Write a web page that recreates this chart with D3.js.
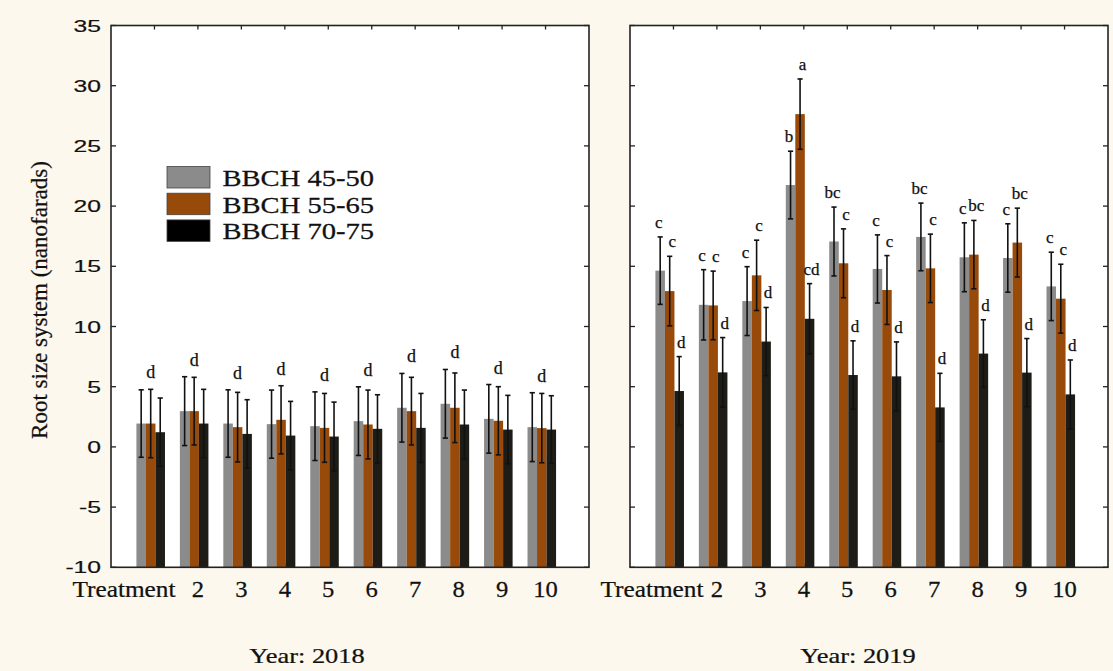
<!DOCTYPE html>
<html lang="en">
<head>
  <meta charset="UTF-8" />
  <title>Root size system by treatment, 2018 and 2019</title>
  <script src="https://d3js.org/d3.v7.min.js"></script>
  <style>
    html, body {
      margin: 0;
      padding: 0;
      background: #fcf8ee;
    }
    .serif { font-family: "Liberation Serif", "Times New Roman", serif; fill: #111; stroke: #111; stroke-width: 0.25; }
    .sans { font-family: "Liberation Sans", Arial, sans-serif; fill: #111; stroke: #111; stroke-width: 0.2; }
  </style>
</head>
<body>
  <div id="chart"></div>
  <script>
    // Categories and series
    const treatments = ["Treatment", "2", "3", "4", "5", "6", "7", "8", "9", "10"];
    const stages = ["BBCH 45-50", "BBCH 55-65", "BBCH 70-75"];
    const stageColors = ["#8b8b8b", "#984a0b", "#1e1c16"];
    const legendColors = ["#8b8b8b", "#984a0b", "#000000"];
    const yTicks = [-10, -5, 0, 5, 10, 15, 20, 25, 30, 35];

    // Year 2018 means and error half-widths
    const gray2018 = [1.94, 2.97, 1.94, 1.89, 1.72, 2.14, 3.25, 3.58, 2.33, 1.64];
    const orange2018 = [1.94, 2.97, 1.64, 2.25, 1.58, 1.86, 2.97, 3.25, 2.17, 1.56];
    const black2018 = [1.22, 1.94, 1.08, 0.94, 0.86, 1.50, 1.58, 1.86, 1.44, 1.44];
    const errGray2018 = [2.80, 2.86, 2.80, 2.83, 2.85, 2.85, 2.85, 2.85, 2.85, 2.86];
    const errOrange2018 = [2.84, 2.81, 2.89, 2.83, 2.86, 2.86, 2.81, 2.89, 2.83, 2.88];
    const errBlack2018 = [2.84, 2.84, 2.84, 2.84, 2.86, 2.83, 2.86, 2.86, 2.84, 2.81];
    const letters2018 = ["d", "d", "d", "d", "d", "d", "d", "d", "d", "d"];

    // Year 2019 means and error half-widths
    const gray2019 = [14.64, 11.80, 12.11, 21.75, 17.06, 14.78, 17.44, 15.75, 15.69, 13.33];
    const orange2019 = [12.94, 11.75, 14.25, 27.64, 15.25, 13.03, 14.83, 15.97, 16.97, 12.31];
    const black2019 = [4.64, 6.19, 8.75, 10.64, 5.97, 5.86, 3.28, 7.75, 6.17, 4.36];
    const errGray2019 = [2.80, 2.92, 2.86, 2.81, 2.86, 2.83, 2.81, 2.86, 2.84, 2.84];
    const errOrange2019 = [2.89, 2.85, 2.92, 2.92, 2.86, 2.86, 2.84, 2.84, 2.86, 2.86];
    const errBlack2019 = [2.86, 2.89, 2.83, 2.92, 2.84, 2.86, 2.83, 2.81, 2.83, 2.86];
    const lettersGray2019 = ["c", "c", "c", "b", "bc", "c", "bc", "c", "c", "c"];
    const lettersOrange2019 = ["c", "c", "c", "a", "c", "c", "c", "bc", "bc", "c"];
    const lettersBlack2019 = ["d", "d", "d", "cd", "d", "d", "d", "d", "d", "d"];

    const width = 1113, height = 671;
    const plotTop = 25.5, plotBottom = 567.3;

    const svg = d3.select("#chart").append("svg")
      .attr("width", width)
      .attr("height", height);

    svg.append("rect").attr("width", width).attr("height", height).attr("fill", "#fcf8ee");

    const y = d3.scaleLinear().domain([-10, 35]).range([plotBottom, plotTop]);

    // text helper: the source picture is stretched sideways, so glyphs get an x scale
    function label(g, x, yy, txt, cls, size, sx, anchor) {
      return g.append("text")
        .attr("class", cls)
        .attr("transform", `translate(${x},${yy}) scale(${sx},1)`)
        .attr("font-size", size)
        .attr("text-anchor", anchor || "middle")
        .text(txt);
    }

    function panel(x0, x1, series, errs, opts) {
      const x = d3.scaleLinear().domain([0, 11]).range([x0, x1]);
      const barW = x(0.219) - x(0);
      const groupStart = x(-0.415) - x(0);
      const g = svg.append("g");

      g.append("rect")
        .attr("x", x0).attr("y", plotTop)
        .attr("width", x1 - x0).attr("height", plotBottom - plotTop)
        .attr("fill", "#fff");

      // inward ticks on all four sides
      const ticks = g.append("g").attr("stroke", "#222").attr("stroke-width", 1.3);
      yTicks.forEach(t => {
        ticks.append("line").attr("x1", x0).attr("x2", x0 + 5).attr("y1", y(t)).attr("y2", y(t));
        ticks.append("line").attr("x1", x1 - 5).attr("x2", x1).attr("y1", y(t)).attr("y2", y(t));
      });
      treatments.forEach((t, i) => {
        ticks.append("line").attr("x1", x(i + 1)).attr("x2", x(i + 1)).attr("y1", plotTop).attr("y2", plotTop + 4);
        ticks.append("line").attr("x1", x(i + 1)).attr("x2", x(i + 1)).attr("y1", plotBottom).attr("y2", plotBottom - 4);
      });

      // bars
      series.forEach((vals, s) => {
        g.selectAll(null)
          .data(vals)
          .enter()
          .append("rect")
          .attr("x", (d, i) => x(i + 1) + groupStart + s * barW)
          .attr("y", d => y(d))
          .attr("width", barW)
          .attr("height", d => y(-10) - y(d))
          .attr("fill", stageColors[s]);
      });

      // error bars
      const eb = g.append("g").attr("stroke", "#111").attr("stroke-width", 1.6).attr("fill", "none");
      series.forEach((vals, s) => {
        vals.forEach((v, i) => {
          const cx = x(i + 1) + groupStart + (s + 0.5) * barW;
          const hi = y(v + errs[s][i]), lo = y(v - errs[s][i]);
          eb.append("line").attr("x1", cx).attr("x2", cx).attr("y1", hi).attr("y2", lo);
          eb.append("line").attr("x1", cx - 2.6).attr("x2", cx + 2.6).attr("y1", hi).attr("y2", hi);
          eb.append("line").attr("x1", cx - 2.6).attr("x2", cx + 2.6).attr("y1", lo).attr("y2", lo);
        });
      });

      // significance letters
      if (opts.groupLetters) {
        opts.groupLetters.forEach((l, i) => {
          const topVal = d3.max(series, (vals, s) => vals[i] + errs[s][i]);
          label(g, x(i + 1) + groupStart + 1.5 * barW, y(topVal) - 11, l, "serif", 18, 1, "middle");
        });
      }
      if (opts.barLetters) {
        const nudge = [-1.5, 2.5, 2];
        opts.barLetters.forEach((ls, s) => {
          ls.forEach((l, i) => {
            const cx = x(i + 1) + groupStart + (s + 0.5) * barW + nudge[s];
            label(g, cx, y(series[s][i] + errs[s][i]) - 9, l, "serif", 17, 1, "middle");
          });
        });
      }

      // frame
      g.append("rect")
        .attr("x", x0).attr("y", plotTop)
        .attr("width", x1 - x0).attr("height", plotBottom - plotTop)
        .attr("fill", "none").attr("stroke", "#222").attr("stroke-width", 1.6);

      // category labels
      treatments.forEach((t, i) => {
        if (i === 0) {
          label(g, x(1) + opts.firstLabelShift, 596.5, t, "serif", 23, 1.1, "end");
        } else {
          label(g, x(i + 1), 596.5, t, "serif", 23, 1.07, "middle");
        }
      });

      label(g, opts.yearX, 663, opts.year, "serif", 22, 1.2, "middle");
      return x;
    }

    panel(111, 589,
      [gray2018, orange2018, black2018],
      [errGray2018, errOrange2018, errBlack2018],
      { groupLetters: letters2018, year: "Year: 2018", yearX: 307, firstLabelShift: 21 });

    panel(630, 1108,
      [gray2019, orange2019, black2019],
      [errGray2019, errOrange2019, errBlack2019],
      { barLetters: [lettersGray2019, lettersOrange2019, lettersBlack2019], year: "Year: 2019", yearX: 858, firstLabelShift: 30 });

    // y axis labels (left panel only)
    yTicks.forEach(t => {
      label(svg, 101, y(t) + 6, String(t), "sans", 17, 1.45, "end");
    });

    svg.append("text")
      .attr("class", "serif")
      .attr("transform", `translate(47,300) rotate(-90)`)
      .attr("font-size", 23)
      .attr("text-anchor", "middle")
      .text("Root size system (nanofarads)");

    // legend
    const legend = svg.append("g");
    stages.forEach((s, i) => {
      const ry = 166.5 + i * 26.7;
      legend.append("rect")
        .attr("x", 167).attr("y", ry)
        .attr("width", 43).attr("height", 21.5)
        .attr("fill", legendColors[i])
        .attr("stroke", "#444").attr("stroke-width", 0.8);
      label(legend, 222.5, ry + 19.5, s, "serif", 22.5, 1.27, "start");
    });
  </script>
</body>
</html>
